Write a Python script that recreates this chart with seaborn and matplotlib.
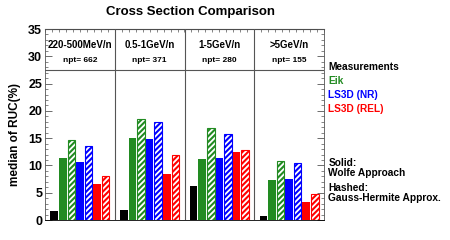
import numpy as np
import pandas as pd
import matplotlib
matplotlib.use("Agg")
import matplotlib.pyplot as plt
import seaborn as sns

# ---------------------------------------------
# DATA
# ---------------------------------------------
energy_bins = ["220-500MeV/n", "0.5-1GeV/n", "1-5GeV/n", ">5GeV/n"]
npt         = [662, 371, 280, 155]

measurements = [1.6, 1.8, 6.3, 0.7]
eik_wolfe    = [11.4, 15.0, 11.1, 7.4]
eik_gh       = [14.6, 18.5, 16.9, 10.9]
nr_wolfe     = [10.6, 14.9, 11.4, 7.5]
nr_gh        = [13.5, 18.0, 15.7, 10.5]
rel_wolfe    = [6.7, 8.4, 12.4, 3.4]
rel_gh       = [8.1, 12.0, 12.8, 4.7]

series_names = ["Meas", "Eik-W", "Eik-GH", "NR-W", "NR-GH", "REL-W", "REL-GH"]
series_vals  = [measurements, eik_wolfe, eik_gh, nr_wolfe, nr_gh, rel_wolfe, rel_gh]
series_cols  = ["black", "#228B22", "#228B22", "#0000FF", "#0000FF", "#FF0000", "#FF0000"]
hashed       = [False, False, True, False, True, False, True]

legend_labels = ["Measurements", "Eik", "LS3D (NR)", "LS3D (REL)"]
legend_cols   = ["black", "#228B22", "#0000FF", "#FF0000"]

rows = []
for name, vals in zip(series_names, series_vals):
    for b, v in zip(energy_bins, vals):
        rows.append({"bin": b, "series": name, "ruc": v})
df = pd.DataFrame(rows)

# ---------------------------------------------
# PLOT
# ---------------------------------------------
sns.set_style("ticks")
plt.rcParams["font.family"] = ["Liberation Sans", "DejaVu Sans"]
plt.rcParams["font.weight"] = "bold"
plt.rcParams["text.color"] = "black"
plt.rcParams["axes.labelcolor"] = "black"
plt.rcParams["ytick.color"] = "black"
plt.rcParams["hatch.linewidth"] = 1.5

fig = plt.figure(figsize=(4.5, 2.4), dpi=100)
ax = fig.add_axes([0.1, 0.083, 0.62, 0.796])

sns.barplot(data=df, x="bin", y="ruc", hue="series", order=energy_bins,
            hue_order=series_names, palette=series_cols, saturation=1,
            errorbar=None, width=0.86, gap=0.12, legend=False, ax=ax)

for cont, col, h in zip(ax.containers, series_cols, hashed):
    for p in cont:
        p.set_linewidth(0)
        if h:
            p.set_facecolor("white")
            p.set_edgecolor(col)
            p.set_hatch("//////")
            p.set_linewidth(0.8)

ax.set_xlim(-0.5, 3.5)
ax.set_ylim(0, 35)
ax.set_yticks(np.arange(0, 36, 5))
ax.set_yticks(np.arange(0, 35, 1), minor=True)
ax.set_xticks([])
ax.set_xlabel("")
ax.set_ylabel("median of RUC(%)", fontsize=8.5, fontweight="bold")
ax.yaxis.set_label_coords(-0.085, 0.45)
ax.tick_params(axis="y", which="both", direction="in", right=True, labelsize=9,
               colors="#555555", labelcolor="black")
ax.tick_params(axis="y", which="major", length=5, width=0.6, pad=2)
ax.tick_params(axis="y", which="minor", length=2.5, width=0.5)
for s in ax.spines.values():
    s.set_linewidth(0.6)
    s.set_color("#555555")
ax.spines["bottom"].set_color("black")

# top minor ticks
ax2 = ax.secondary_xaxis("top")
ax2.set_xticks(np.arange(-0.5, 3.51, 0.1))
ax2.set_xticklabels([])
ax2.tick_params(direction="in", length=2, width=0.5, colors="#555555")

# group separators and header box
for xs in [0.5, 1.5, 2.5]:
    ax.axvline(xs, color="#555555", lw=0.8)
ax.axhline(27.5, color="#555555", lw=0.8)
for i, (b, n) in enumerate(zip(energy_bins, npt)):
    ax.text(i, 32.0, b, ha="center", va="center", fontsize=7, fontweight="bold")
    ax.text(i, 29.3, f"npt= {n}", ha="center", va="center", fontsize=6, fontweight="bold")

fig.suptitle("Cross Section Comparison", x=0.424, y=0.975, fontsize=9.5,
             fontweight="bold", color="black")

# legend text on the right
lx = 0.73
for k, (lab, c) in enumerate(zip(legend_labels, legend_cols)):
    fig.text(lx, 1 - (67 + 14 * k) / 240, lab, color=c, fontsize=7.3,
             fontweight="bold", va="center")
fig.text(lx, 1 - 168 / 240, "Solid:\nWolfe Approach", fontsize=7.3,
         fontweight="bold", va="center", linespacing=0.95)
fig.text(lx, 1 - 193 / 240, "Hashed:\nGauss-Hermite Approx.", fontsize=7.3,
         fontweight="bold", va="center", linespacing=0.95)

fig.savefig("out.png", dpi=100)
